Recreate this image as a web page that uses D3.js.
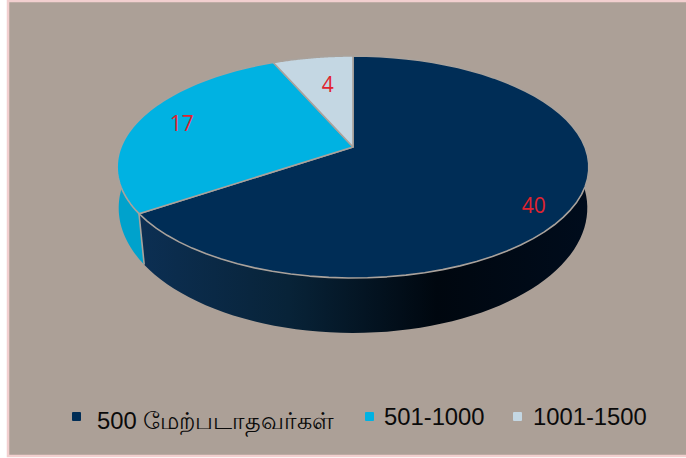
<!DOCTYPE html>
<html>
<head>
<meta charset="utf-8">
<script src="https://cdn.jsdelivr.net/npm/d3@7"></script>
<style>
    html, body { margin: 0; padding: 0; background: #fff; }
    svg { display: block; }
    text { font-family: "Liberation Sans", Arial, sans-serif; }
</style>
</head>
<body>
<script>
(function(){

    /////////// DATA //////////
    const categories = ["500 மேற்படாதவர்கள்", "501-1000", "1001-1500"];
    const values = [40, 17, 4];
    const colors = ["#002d56", "#00b2e2", "#c4d7e3"];
    const navyWall = ["#0c2f53", "#082338", "#00070f", "#000c1c"];
    const cyanWall = ["#00a2cc", "#00a2cc"];
    const paleWall = ["#c4d7e3", "#c4d7e3"];

    /////////// CONFIGURATION //////////
    const width = 686, height = 458;
    const cx = 353;
    const topFace = {apex: 147, a: 232, b: 107.4, p: 0.18};   // perspective of the top disc
    const lowFace = {apex: 190.5, a: 232, b: 122.5, p: 0.14}; // perspective of the bottom rim

    const svg = d3.select("body").append("svg")
        .attr("width", width)
        .attr("height", height);

    // project a point of the unit circle on to a tilted disc
    function project(face, angle, r = 1) {
        const u = r * Math.sin(angle), v = -r * Math.cos(angle), w = 1 - face.p * v;
        return [cx + face.a * u / w, face.apex + face.b * v / w];
    }
    function sample(start, end) {
        return d3.range(0, 61).map(i => start + (end - start) * i / 60);
    }

    const line = d3.line();
    const slices = d3.pie().sort(null)(values);

    /////////// BACKGROUND //////////
    svg.append("rect")
        .attr("x", 8).attr("y", 1).attr("width", 700).attr("height", 455)
        .attr("fill", "#aca097")
        .attr("stroke", "#f2cfcf").attr("stroke-width", 2.5);

    /////////// SIDE WALLS //////////
    const defs = svg.append("defs");
    [navyWall, cyanWall, paleWall].forEach((stops, i) => {
        const grad = defs.append("linearGradient")
            .attr("id", "wall" + i)
            .attr("gradientUnits", "userSpaceOnUse")
            .attr("x1", 140).attr("x2", 585).attr("y1", 0).attr("y2", 0);
        const offset = d3.scaleLinear().domain([0, stops.length - 1]).range([0, 1]);
        stops.forEach((c, k) => grad.append("stop").attr("offset", offset(k)).attr("stop-color", c));
    });

    slices.forEach((s, i) => {
        // only the front half of the rim shows
        const start = Math.max(s.startAngle, Math.PI / 2);
        const end = Math.min(s.endAngle, Math.PI * 1.5);
        if (end <= start) return;
        const rim = sample(start, end);
        svg.append("path")
            .attr("d", line(rim.map(t => project(topFace, t)).concat(rim.slice().reverse().map(t => project(lowFace, t)))) + "Z")
            .attr("fill", `url(#wall${i})`);
    });

    /////////// TOP FACE //////////
    slices.forEach((s, i) => {
        const edge = sample(s.startAngle, s.endAngle).map(t => project(topFace, t));
        svg.append("path")
            .attr("d", line([[cx, topFace.apex]].concat(edge)) + "Z")
            .attr("fill", colors[i])
            .attr("stroke", "#a9a29c")
            .attr("stroke-width", 1.6)
            .attr("stroke-linejoin", "round");
    });

    // seam between the navy and cyan walls
    const seam = slices[0].endAngle;
    svg.append("path")
        .attr("d", line([project(topFace, seam), project(lowFace, seam)]))
        .attr("stroke", "#a9a29c")
        .attr("stroke-width", 1.6);

    /////////// LABELS //////////
    const labelShift = [[5, 15], [0, 0], [8, 11]];
    svg.selectAll(".value")
        .data(slices)
        .enter()
        .append("text")
        .attr("class", "value")
        .attr("x", (d, i) => project(topFace, (d.startAngle + d.endAngle) / 2, 0.8)[0] + labelShift[i][0])
        .attr("y", (d, i) => project(topFace, (d.startAngle + d.endAngle) / 2, 0.8)[1] + labelShift[i][1])
        .attr("dy", "0.35em")
        .attr("text-anchor", "middle")
        .style("font-family", "'Open Sans', sans-serif")
        .style("font-size", "21px")
        .attr("fill", "#e1232f")
        .text(d => d.data);

    /////////// LEGEND //////////
    const swatchX = [72, 365, 513];
    const textX = [97, 384, 533];
    const baseline = [429, 424.5, 424.5];
    const legend = svg.selectAll(".legend")
        .data(categories)
        .enter()
        .append("g")
        .attr("class", "legend");
    legend.append("rect")
        .attr("x", (d, i) => swatchX[i])
        .attr("y", 412)
        .attr("width", 9).attr("height", 9)
        .attr("rx", 1)
        .attr("fill", (d, i) => colors[i]);
    legend.append("text")
        .attr("x", (d, i) => textX[i])
        .attr("y", (d, i) => baseline[i])
        .style("font-size", "23.8px")
        .attr("fill", "#0a0a0a")
        .text(d => d);

})();
</script>
</body>
</html>
